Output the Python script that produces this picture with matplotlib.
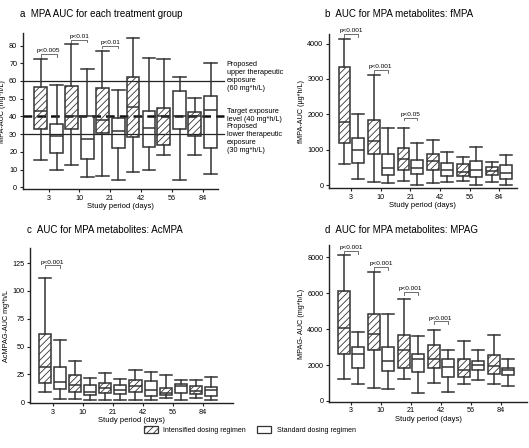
import numpy as np
import matplotlib.pyplot as plt
from matplotlib.patches import Patch

plt.rcParams['font.family'] = ['Liberation Sans', 'DejaVu Sans']
plt.rcParams['hatch.color'] = '#4a4a4a'
plt.rcParams['hatch.linewidth'] = 0.6

days = ['3', '10', '21', '42', '56', '84']

# five-number summaries per study day: (low whisker, q1, median, q3, high whisker)
mpa_int = [(15.5, 33, 43, 56.5, 72.5), (12.7, 33, 40, 57, 81), (6.5, 30.5, 38, 56, 77),
           (8.5, 28.5, 45.5, 62, 84.5), (18, 24, 40, 45, 72.5), (18, 29, 40, 42.5, 50.5)]
mpa_std = [(10, 19.5, 29, 35.5, 58), (6, 16, 27.5, 40, 66.5), (4, 22, 31.5, 39, 55),
           (10, 23, 33.5, 43, 73), (4, 33, 40, 54.5, 62.5), (7.5, 22, 43.5, 51.5, 70)]

fmpa_int = [(600, 1180, 1780, 3350, 4120), (100, 880, 1260, 1850, 3100), (120, 440, 730, 1050, 1620),
            (60, 420, 680, 880, 1280), (120, 260, 380, 600, 800), (100, 300, 400, 500, 660)]
fmpa_std = [(180, 620, 1000, 1320, 2020), (50, 300, 480, 870, 1620), (0, 320, 480, 700, 1180),
            (80, 260, 440, 640, 940), (0, 220, 440, 680, 1070), (0, 180, 340, 560, 840)]

acmpa_int = [(9.5, 17.6, 31.5, 61, 112), (3, 9.5, 15, 24, 37), (1.5, 8.6, 12.5, 17, 26),
             (1.5, 9.5, 14.3, 19.6, 28.6), (4, 6, 8.6, 13, 24), (3.6, 7, 10, 14.3, 20)]
acmpa_std = [(3, 12, 18, 32, 55.5), (2, 6.6, 9, 15, 21.5), (1.5, 7, 10.5, 15, 20.5),
             (1.5, 5.7, 11, 19, 27), (1.5, 8, 14.6, 16.7, 19.7), (1.5, 5.7, 11, 14, 23)]

mpag_int = [(1250, 2620, 4060, 6100, 8130), (700, 2810, 3730, 4820, 7170), (1240, 1850, 2830, 3700, 5650),
            (1020, 1850, 2360, 3100, 3970), (960, 1330, 1720, 2350, 3330), (960, 1515, 1950, 2550, 3700)]
mpag_std = [(960, 1850, 2590, 3000, 3825), (650, 1660, 2220, 3000, 4820), (460, 1630, 2310, 2590, 3620),
            (500, 1330, 1880, 2360, 2810), (1150, 1700, 2000, 2220, 2860), (830, 1440, 1720, 1810, 2350)]

# p-value brackets: (day index, bracket height, label)
mpa_p = [(0, 75.3, 'p<0.005'), (1, 83.4, 'p<0.01'), (2, 80.0, 'p<0.01')]
fmpa_p = [(0, 4265, 'p<0.001'), (1, 3260, 'p<0.001'), (2, 1910, 'p<0.05')]
acmpa_p = [(0, 123, 'p<0.001')]
mpag_p = [(0, 8350, 'p<0.001'), (1, 7450, 'p<0.001'), (2, 6050, 'p<0.001'), (3, 4430, 'p<0.001')]

LC = '#333333'
LW = 1.1
FS = 5.2


def to_stats(rows):
    return [dict(whislo=r[0], q1=r[1], med=r[2], q3=r[3], whishi=r[4], fliers=[]) for r in rows]


def draw_panel(ax, s_int, s_std, pvals, ylim, yticks, ylabel, xlim, off=0.24, w=0.4):
    pos = np.arange(1, len(days) + 1)
    for stats, p, hatch in [(s_int, pos - off, '/////'), (s_std, pos + off, None)]:
        ax.bxp(to_stats(stats), positions=p, widths=w, capwidths=w, patch_artist=True,
               showfliers=False,
               boxprops=dict(facecolor='none', edgecolor=LC, linewidth=LW, hatch=hatch),
               medianprops=dict(color=LC, linewidth=LW),
               whiskerprops=dict(color=LC, linewidth=LW),
               capprops=dict(color=LC, linewidth=LW))
    h = (ylim[1] - ylim[0]) * 0.018
    for i, y, lab in pvals:
        x0, x1 = pos[i] - off, pos[i] + off
        ax.plot([x0, x0, x1, x1], [y - h, y, y, y - h], color='#555555', lw=0.6, clip_on=False)
        ax.text((x0 + x1) / 2, y + h * 0.3, lab, ha='center', va='bottom', fontsize=4.6)
    ax.set_xlim(*xlim)
    ax.set_ylim(*ylim)
    ax.set_xticks(pos)
    ax.set_xticklabels(days)
    ax.set_yticks(yticks)
    ax.set_xlabel('Study period (days)', fontsize=FS + 0.3, labelpad=1)
    ax.set_ylabel(ylabel, fontsize=FS, labelpad=2)
    ax.spines['top'].set_visible(False)
    ax.spines['right'].set_visible(False)
    for s in ('left', 'bottom'):
        ax.spines[s].set_linewidth(1.0)
        ax.spines[s].set_color('#222222')
    ax.tick_params(labelsize=FS, length=2.5, width=0.8, pad=1.5, color='#222222')


fig = plt.figure(figsize=(5.29, 4.48), dpi=100)
ax_a = fig.add_axes([0.043, 0.578, 0.369, 0.348])
ax_b = fig.add_axes([0.622, 0.580, 0.355, 0.344])
ax_c = fig.add_axes([0.057, 0.100, 0.384, 0.346])
ax_d = fig.add_axes([0.622, 0.103, 0.374, 0.350])

# panel a with therapeutic window lines
tr = ax_a.get_yaxis_transform()
ax_a.plot([0, 1.03], [60, 60], color='#222222', lw=0.9, transform=tr, clip_on=False)
ax_a.plot([0, 1.03], [30, 30], color='#222222', lw=0.9, transform=tr, clip_on=False)
ax_a.plot([0, 1.03], [40, 40], color='#111111', lw=1.8, ls=(0, (3.5, 2)), transform=tr, clip_on=False)
draw_panel(ax_a, mpa_int, mpa_std, mpa_p, (-1, 87), range(0, 81, 10), 'MPA-AUC (mg*h/L)', (0.16, 6.5), off=0.26, w=0.42)
ax_a.text(1.045, 62.5, 'Proposed\nupper therapeutic\nexposure\n(60 mg*h/L)', transform=tr,
          ha='left', va='center', fontsize=FS, linespacing=1.25)
ax_a.text(1.045, 40.6, 'Target exposure\nlevel (40 mg*h/L)', transform=tr,
          ha='left', va='center', fontsize=FS, linespacing=1.25)
ax_a.text(1.045, 27.5, 'Proposed\nlower therapeutic\nexposure\n(30 mg*h/L)', transform=tr,
          ha='left', va='center', fontsize=FS, linespacing=1.25)

draw_panel(ax_b, fmpa_int, fmpa_std, fmpa_p, (-85, 4270), range(0, 4001, 1000), 'fMPA-AUC (µg*h/L)', (0.25, 6.6), off=0.23)
draw_panel(ax_c, acmpa_int, acmpa_std, acmpa_p, (-1, 138.5), range(0, 126, 25), 'AcMPAG-AUC mg*h/L', (0.25, 7.0), off=0.25)
draw_panel(ax_d, mpag_int, mpag_std, mpag_p, (-50, 8680), range(0, 8001, 2000), 'MPAG- AUC (mg*h/L)', (0.27, 6.87), off=0.24)

fig.text(0.038, 0.968, 'a  MPA AUC for each treatment group', fontsize=7, va='center')
fig.text(0.615, 0.968, 'b  AUC for MPA metabolites: fMPA', fontsize=7, va='center')
fig.text(0.051, 0.486, 'c  AUC for MPA metabolites: AcMPA', fontsize=7, va='center')
fig.text(0.615, 0.486, 'd  AUC for MPA metabolites: MPAG', fontsize=7, va='center')

handles = [Patch(facecolor='white', edgecolor=LC, hatch='/////', lw=0.9),
           Patch(facecolor='white', edgecolor=LC, lw=0.9)]
fig.legend(handles, ['Intensified dosing regimen', 'Standard dosing regimen'], loc='center',
           bbox_to_anchor=(0.472, 0.04), ncol=2, frameon=False, fontsize=5,
           handlelength=2.0, handleheight=1.1, columnspacing=1.6, handletextpad=0.8)

fig.savefig('out.png', dpi=100)
